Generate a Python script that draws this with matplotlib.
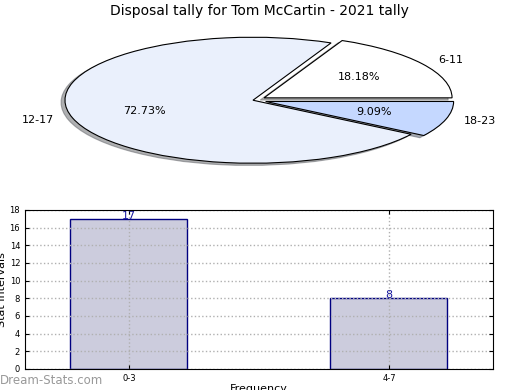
import matplotlib
matplotlib.use("Agg")
import matplotlib.pyplot as plt

# pie data
pie_labels = ["6-11", "12-17", "18-23"]
pie_values = [2, 8, 1]
pie_colors = ["#ffffff", "#eaf0fc", "#c5d8ff"]
pie_explode = [0.07, 0, 0.07]

# bar data
bar_labels = ["0-3", "4-7"]
bar_values = [17, 8]

fig = plt.figure(figsize=(5.2, 3.9), dpi=100)

# pie
ax1 = fig.add_axes([0.0165, 0.533, 0.94, 0.42])
wedges, texts, autotexts = ax1.pie(pie_values, labels=pie_labels, colors=pie_colors,
                                   explode=pie_explode, autopct="%.2f%%", startangle=0,
                                   shadow={"ox": -0.015, "oy": -0.025, "shade": 0.6},
                                   textprops={"fontsize": 8},
                                   wedgeprops={"edgecolor": "black", "linewidth": 0.8})
ax1.set_aspect("auto")
ax1.set_xlim(-1.3, 1.3)
ax1.set_ylim(-1.3, 1.3)
fig.text(0.498, 0.972, "Disposal tally for Tom McCartin - 2021 tally", ha="center", va="center", fontsize=10)

# bars
ax2 = fig.add_axes([0.048, 0.054, 0.9, 0.408])
x = range(len(bar_values))
ax2.bar(x, bar_values, width=0.45, color="#ccccdd", edgecolor="#000080", linewidth=1, zorder=2)
for i, v in enumerate(bar_values):
    ax2.text(i, v, str(v), ha="center", va="baseline", color="#1a1aa0", fontsize=8, zorder=4)
ax2.set_xlim(-0.4, 1.4)
ax2.set_ylim(0, 18)
ax2.set_yticks(range(0, 19, 2))
ax2.set_xticks(list(x))
ax2.set_xticklabels(bar_labels)
ax2.tick_params(labelsize=6, direction="in", top=True, right=True, length=3)
ax2.set_axisbelow(False)
ax2.grid(True, linestyle=":", color="#b0b0b0", linewidth=1, zorder=3)
for sp in ax2.spines.values():
    sp.set_zorder(5)
ax2.set_ylabel("Stat Intervals", fontsize=8, labelpad=2)
ax2.set_xlabel("Frequency", fontsize=8, labelpad=1)

fig.text(0.0, 0.024, "Dream-Stats.com", fontsize=8.5, color="#999999", ha="left", va="center")

fig.savefig("out.png", dpi=100)
